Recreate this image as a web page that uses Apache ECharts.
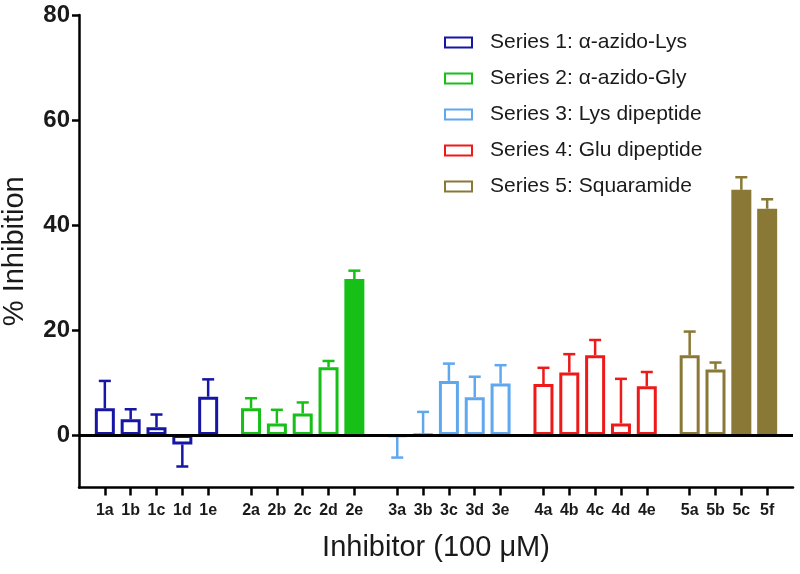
<!DOCTYPE html>
<html><head><meta charset="utf-8">
<script src="https://cdn.jsdelivr.net/npm/echarts@6/dist/echarts.min.js"></script>
<style>html,body{margin:0;padding:0;background:#fff}#c{width:800px;height:574px}</style>
</head><body><div id="c"></div>
<script>
const seriesNames = ['Series 1: α-azido-Lys', 'Series 2: α-azido-Gly', 'Series 3: Lys dipeptide', 'Series 4: Glu dipeptide', 'Series 5: Squaramide'];
const colors = ['#1616a6', '#16c016', '#60a8ee', '#ee1a1a', '#8a7936'];
const cats1 = ['1a', '1b', '1c', '1d', '1e'];
const cats2 = ['2a', '2b', '2c', '2d', '2e'];
const cats3 = ['3a', '3b', '3c', '3d', '3e'];
const cats4 = ['4a', '4b', '4c', '4d', '4e'];
const cats5 = ['5a', '5b', '5c', '5f'];
const vals1 = [5.1, 3.0, 1.5, -1.8, 7.3];
const err1 = [5.2, 1.9, 2.4, 4.2, 3.3];
const vals2 = [5.1, 2.2, 4.1, 12.9, 29.7];
const err2 = [1.9, 2.6, 2.1, 1.2, 1.6];
const vals3 = [-0.3, 0.1, 10.3, 7.2, 9.8];
const err3 = [4.0, 4.3, 3.3, 3.9, 3.5];
const vals4 = [9.7, 11.9, 15.2, 2.2, 9.3];
const err4 = [3.1, 3.5, 2.9, 8.5, 2.7];
const vals5 = [15.2, 12.5, 46.7, 43.1];
const err5 = [4.5, 1.3, 2.4, 1.8];
const filledBars = ['2e', '5c', '5f'];
const yTicks = [0, 20, 40, 60, 80];
const xTitle = 'Inhibitor (100 μM)';
const yTitle = '% Inhibition';

const groups = [
  {cats: cats1, vals: vals1, errs: err1},
  {cats: cats2, vals: vals2, errs: err2},
  {cats: cats3, vals: vals3, errs: err3},
  {cats: cats4, vals: vals4, errs: err4},
  {cats: cats5, vals: vals5, errs: err5}
];
const GROUP_GAP = 0.66;
const FONT = 'Arial, "Liberation Sans", Helvetica, sans-serif';

// positions along the x value axis (category slots with group gaps)
const allPos = [], allNames = [];
let cursor = 0;
groups.forEach((g, gi) => {
  g.pos = g.cats.map((c, i) => cursor + i);
  g.pos.forEach((p, i) => { allPos.push(p); allNames.push(g.cats[i]); });
  cursor += g.cats.length + GROUP_GAP;
});
const xMax = allPos[allPos.length - 1] + 1;

const series = [];
groups.forEach((g, gi) => {
  const col = colors[gi];
  const s = {
    name: seriesNames[gi],
    type: 'bar',
    barWidth: 20,
    barGap: '-100%',
    itemStyle: {color: '#ffffff', borderColor: col, borderWidth: 3},
    data: g.cats.map((c, i) => {
      const d = {value: [g.pos[i], g.vals[i]]};
      if (filledBars.includes(c)) d.itemStyle = {color: col, borderColor: col};
      return d;
    }),
    z: 3
  };
  if (gi === 0) {
    s.markLine = {
      silent: true, symbol: 'none', animation: false,
      label: {show: false},
      lineStyle: {color: '#000', width: 3, type: 'solid'},
      data: [{yAxis: 0}],
      z: 5
    };
  }
  series.push(s);
  series.push({
    type: 'custom',
    z: 2,
    data: g.cats.map((c, i) => [g.pos[i], g.vals[i], g.errs[i]]),
    encode: {x: 0, y: 1},
    renderItem: function (params, api) {
      const x = api.value(0), v = api.value(1), e = api.value(2);
      const end = v + (v < 0 ? -e : e);
      const p0 = api.coord([x, v]);
      const p1 = api.coord([x, end]);
      const hw = 6;
      return {
        type: 'group',
        children: [
          {type: 'line', shape: {x1: p0[0], y1: p0[1], x2: p1[0], y2: p1[1]}, style: {stroke: col, lineWidth: 2.5}},
          {type: 'line', shape: {x1: p1[0] - hw, y1: p1[1], x2: p1[0] + hw, y2: p1[1]}, style: {stroke: col, lineWidth: 2.5}}
        ]
      };
    }
  });
});

const chart = echarts.init(document.getElementById('c'), null, {renderer: 'canvas'});
chart.setOption({
  animation: false,
  backgroundColor: '#ffffff',
  grid: {left: 79, right: 7, top: 15, bottom: 86.5, containLabel: false, outerBoundsMode: 'none'},
  legend: {
    orient: 'vertical', left: 439, top: 27,
    icon: 'rect', itemWidth: 27, itemHeight: 10, itemGap: 15,
    textStyle: {fontSize: 21, color: '#1a1a1a', fontFamily: FONT, padding: [0, 0, 0, 13], lineHeight: 21},
    data: seriesNames,
    selectedMode: false
  },
  xAxis: {
    type: 'value', min: -1, max: xMax,
    name: xTitle, nameLocation: 'middle', nameGap: 46,
    nameTextStyle: {fontSize: 29, color: '#1a1a1a', fontFamily: FONT},
    axisLine: {show: true, onZero: false, lineStyle: {color: '#000', width: 2.5}},
    axisTick: {show: true, length: 8, lineStyle: {color: '#000', width: 2.5}, customValues: allPos},
    axisLabel: {
      customValues: allPos, margin: 15, fontSize: 16, fontWeight: 'bold', color: '#1a1a1a', fontFamily: FONT,
      formatter: function (v) {
        const i = allPos.findIndex(p => Math.abs(p - v) < 0.01);
        return i >= 0 ? allNames[i] : '';
      }
    },
    splitLine: {show: false}
  },
  yAxis: {
    type: 'value', min: -10, max: 80, interval: 10,
    name: yTitle, nameLocation: 'middle', nameGap: 50, nameRotate: 90,
    nameTextStyle: {fontSize: 29, color: '#1a1a1a', fontFamily: FONT},
    axisLine: {show: true, onZero: false, lineStyle: {color: '#000', width: 2.5}},
    axisTick: {show: true, length: 7, lineStyle: {color: '#000', width: 2.5}, customValues: yTicks},
    axisLabel: {customValues: yTicks, margin: 9, fontSize: 24, fontWeight: 'bold', color: '#1a1a1a', fontFamily: FONT},
    splitLine: {show: false}
  },
  series: series
});
</script>
</body></html>
